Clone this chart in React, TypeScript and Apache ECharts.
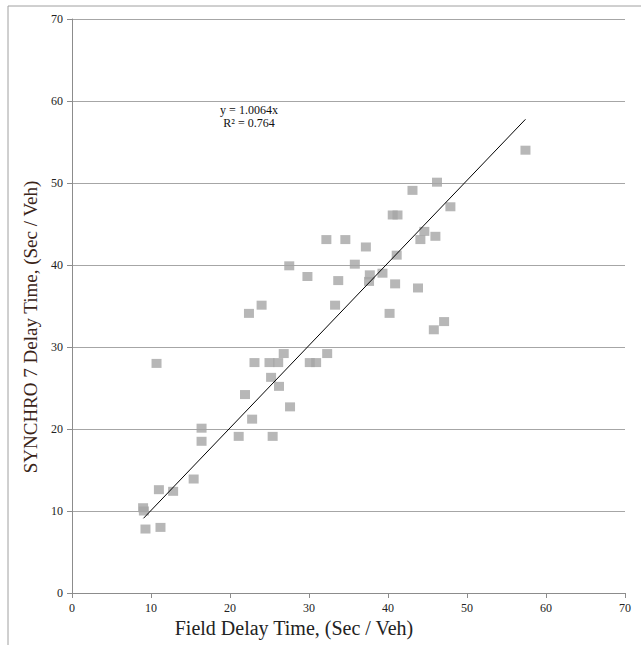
import React, { useEffect, useRef } from "react";
import * as echarts from "echarts";

const fieldDelay = [
  9.0, 9.1, 9.3, 11.2, 10.7, 11.0, 12.8, 15.4, 16.4, 16.4, 21.1, 21.9, 22.8, 25.4, 25.2, 26.2, 27.6,
  23.1, 25.0, 26.1, 26.8, 30.1, 30.9, 32.3, 22.4, 24.0, 27.5, 29.8, 33.3, 33.7, 32.2, 34.6, 35.8,
  37.2, 37.6, 37.7, 39.3, 40.9, 41.1, 40.2, 43.8, 40.6, 41.2, 43.1, 46.2, 47.9, 44.6, 44.1, 46.0,
  47.1, 45.8, 57.4,
];
const synchroDelay = [
  10.4, 10.0, 7.8, 8.0, 28.0, 12.6, 12.4, 13.9, 20.1, 18.5, 19.1, 24.2, 21.2, 19.1, 26.3, 25.2, 22.7,
  28.1, 28.1, 28.1, 29.2, 28.1, 28.1, 29.2, 34.1, 35.1, 39.9, 38.6, 35.1, 38.1, 43.1, 43.1, 40.1,
  42.2, 38.0, 38.8, 39.0, 37.7, 41.2, 34.1, 37.2, 46.1, 46.1, 49.1, 50.1, 47.1, 44.1, 43.1, 43.5,
  33.1, 32.1, 54.0,
];
const trendSlope = 1.0064;
const trendRange = [9.05, 57.4];
const axisTicks = [0, 10, 20, 30, 40, 50, 60, 70];
const equationLines = ["y = 1.0064x", "R² = 0.764"];
const xTitle = "Field Delay Time, (Sec / Veh)";
const yTitle = "SYNCHRO 7 Delay Time, (Sec / Veh)";

const FONT = "Liberation Serif";

export default function App() {
  const ref = useRef<HTMLDivElement>(null);
  useEffect(() => {
    if (!ref.current) return;
    const chart = echarts.init(ref.current, undefined, { renderer: "svg" });
    const points = fieldDelay.map((x, i) => [x, synchroDelay[i]]);
    const trend = trendRange.map((x) => [x, trendSlope * x]);
    chart.setOption({
      animation: false,
      backgroundColor: "#ffffff",
      textStyle: { fontFamily: FONT },
      grid: { left: 72, right: 16, top: 19, bottom: 52 },
      xAxis: {
        type: "value",
        min: axisTicks[0],
        max: axisTicks[axisTicks.length - 1],
        interval: 10,
        axisLine: { show: true, onZero: false, lineStyle: { color: "#8c8c8c", width: 1 } },
        axisTick: { show: true, length: 5, lineStyle: { color: "#8c8c8c" } },
        axisLabel: { color: "#222", fontFamily: FONT, fontSize: 12, margin: 9 },
        splitLine: { show: false },
      },
      yAxis: {
        type: "value",
        min: axisTicks[0],
        max: axisTicks[axisTicks.length - 1],
        interval: 10,
        axisLine: { show: true, lineStyle: { color: "#8c8c8c", width: 1 } },
        axisTick: { show: true, length: 5, lineStyle: { color: "#8c8c8c" } },
        axisLabel: { color: "#222", fontFamily: FONT, fontSize: 12, margin: 9 },
        splitLine: { show: true, lineStyle: { color: "#a6a6a6", width: 1 } },
      },
      graphic: [
        { type: "line", shape: { x1: 8, y1: 6, x2: 641, y2: 6 }, style: { stroke: "#a0a0a0", lineWidth: 1 } },
        { type: "line", shape: { x1: 8, y1: 6, x2: 8, y2: 645 }, style: { stroke: "#a0a0a0", lineWidth: 1 } },
        {
          type: "text",
          x: 294,
          y: 628,
          style: { text: xTitle, font: `20px "${FONT}"`, fill: "#222", textAlign: "center", textVerticalAlign: "middle" },
        },
        {
          type: "text",
          x: 30,
          y: 327,
          rotation: Math.PI / 2,
          style: { text: yTitle, font: `19px "${FONT}"`, fill: "#3a2418", textAlign: "center", textVerticalAlign: "middle" },
        },
        {
          type: "text",
          x: 249,
          y: 110,
          style: { text: equationLines[0], font: `12px "${FONT}"`, fill: "#111", textAlign: "center", textVerticalAlign: "middle" },
        },
        {
          type: "text",
          x: 249,
          y: 123,
          style: { text: equationLines[1], font: `12px "${FONT}"`, fill: "#111", textAlign: "center", textVerticalAlign: "middle" },
        },
      ],
      series: [
        {
          type: "scatter",
          data: points,
          symbol: "rect",
          symbolSize: [10, 9],
          itemStyle: { color: "#a5a5a5" },
          z: 2,
        },
        {
          type: "line",
          data: trend,
          symbol: "none",
          lineStyle: { color: "#000", width: 1 },
          z: 3,
        },
      ],
    });
    return () => chart.dispose();
  }, []);
  return (
    <div
      ref={ref}
      style={{ position: "fixed", left: 0, top: 0, width: 641, height: 645 }}
    />
  );
}
